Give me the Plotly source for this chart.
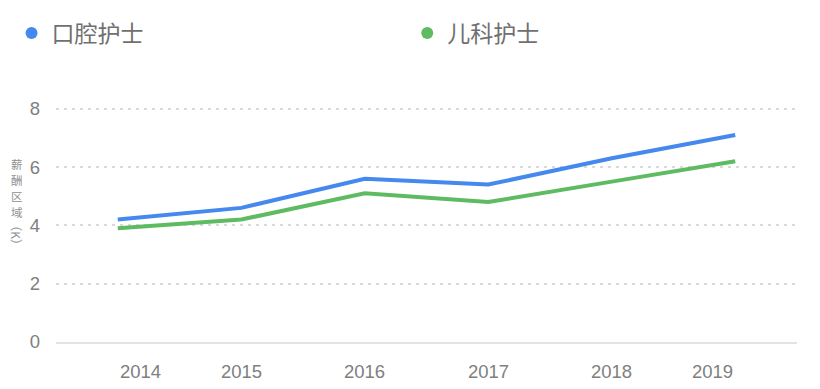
import plotly.graph_objects as go

years = ["2014", "2015", "2016", "2017", "2018", "2019"]
oral_nurse = [4.2, 4.6, 5.6, 5.4, 6.3, 7.1]
pediatric_nurse = [3.9, 4.2, 5.1, 4.8, 5.5, 6.2]
series_names = ["口腔护士", "儿科护士"]
colors = ["#4689EE", "#5FBB62"]
y_ticks = [0, 2, 4, 6, 8]
y_title_chars = "薪酬区域"
y_title_unit = "（K）"

FONT = "Liberation Sans, Noto Sans CJK SC, sans-serif"
CJK = "Noto Sans CJK SC, sans-serif"

W, H = 820, 389
M = dict(l=54, r=23, t=104, b=47)
plot_h = H - M["t"] - M["b"]


def paper_y(px):
    return (H - M["b"] - px) / plot_h


fig = go.Figure()
legend_ids = ["legend", "legend2"]
idx = list(range(len(years)))
for name, vals, c, lg in zip(series_names, [oral_nurse, pediatric_nurse], colors, legend_ids):
    fig.add_trace(go.Scatter(x=idx, y=vals, mode="lines", line=dict(color=c, width=4),
                             showlegend=False, hoverinfo="skip"))
    fig.add_trace(go.Scatter(x=[None], y=[None], mode="markers", name=name, legend=lg,
                             marker=dict(color=c, size=11, symbol="circle")))

# x tick labels as annotations (first left-aligned, last right-aligned)
for i, yr in enumerate(years):
    anchor = "left" if i == 0 else ("right" if i == len(years) - 1 else "center")
    fig.add_annotation(x=i, y=0, xref="x", yref="paper", yshift=-29, text=yr,
                       showarrow=False, xanchor=anchor, yanchor="middle",
                       font=dict(family=FONT, size=18.5, color="#808080"))

# y-axis title, vertical (CJK chars stacked upright, unit rotated)
for k, ch in enumerate(y_title_chars):
    fig.add_annotation(x=-0.0525, y=paper_y(162 + 16 * k), xref="paper", yref="paper",
                       text=ch, showarrow=False, xanchor="center", yanchor="middle",
                       borderpad=0, font=dict(family=CJK, size=11.5, color="#909090"))
fig.add_annotation(x=-0.0525, y=paper_y(234), xref="paper", yref="paper",
                   text=y_title_unit, textangle=90, showarrow=False,
                   xanchor="center", yanchor="middle", borderpad=0,
                   font=dict(family=CJK, size=12, color="#909090"))

legend_style = dict(orientation="h", xanchor="left", yanchor="middle", y=1.315,
                    itemsizing="constant", bgcolor="rgba(0,0,0,0)",
                    font=dict(family=CJK, size=23, color="#707070"))

fig.update_layout(
    width=W, height=H,
    margin=M,
    paper_bgcolor="white", plot_bgcolor="white",
    font=dict(family=FONT, color="#808080"),
    legend=dict(x=-0.06, **legend_style),
    legend2=dict(x=0.474, **legend_style),
    xaxis=dict(range=[-0.5, 5.5], showgrid=False, showticklabels=False,
               showline=True, linecolor="#E3E3E3", linewidth=1.5, ticks="", zeroline=False,
               fixedrange=True),
    yaxis=dict(range=[0, 8.06], tickvals=y_ticks, showgrid=True, gridcolor="#D9D9D9",
               griddash="3px,5px", gridwidth=1.5, zeroline=False, showline=False,
               tickfont=dict(family=FONT, size=18.5, color="#808080"),
               ticklabelstandoff=15, fixedrange=True),
)
fig.write_html("out.html")
